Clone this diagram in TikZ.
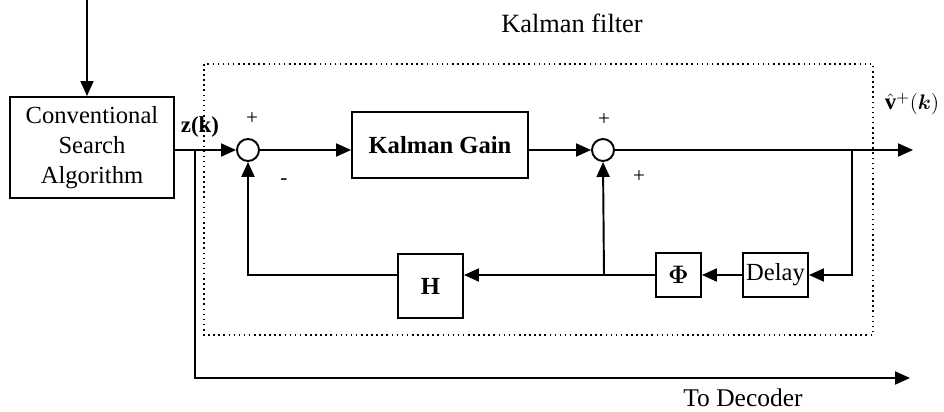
\documentclass[tikz,border=0pt]{standalone}
\usepackage{amsmath}
\usepackage{fontspec}
\setmainfont{Liberation Serif}
\usepackage{tikz}
\usetikzlibrary{arrows.meta,calc,positioning}
\tikzset{
  blk/.style={draw,line width=1.1pt,inner sep=0pt,align=center,font=\fontsize{14}{17}\selectfont},
  sumnode/.style={draw,circle,line width=1.1pt,minimum size=0.44cm,inner sep=0pt},
  wire/.style={line width=1.1pt},
  sig/.style={wire,-{Triangle[length=0.3cm,width=0.26cm]}},
  sgn/.style={font=\fontsize{12}{14}\selectfont},
  lbl/.style={font=\fontsize{14.5}{17}\selectfont}
}
\newcommand{\vhatout}{$\hat{\mathbf{v}}^{+}\mathbf{(}\boldsymbol{k}\mathbf{)}$}

\begin{document}
\begin{tikzpicture}[x=0.02cm,y=-0.02cm]
  \useasboundingbox (0,0) rectangle (944,412);
  \draw[dotted,line width=0.9pt] (204,64) rectangle (873,335);
  \node[lbl,font=\fontsize{15}{18}\selectfont] (kftitle) at (572,23) {Kalman filter};
  \node[blk,minimum width=3.28cm,minimum height=2.02cm] (conv) at (92,147.5) {Conventional\\Search\\Algorithm};
  \node[sumnode] (sumA) at (248,150) {};
  \node[blk,minimum width=3.52cm,minimum height=1.32cm] (gain) at (440,145) {\textbf{Kalman Gain}};
  \node[sumnode] (sumB) at (603,150) {};
  \node[blk,minimum width=1.3cm,minimum height=1.28cm] (hblk) at (430.5,286) {\textbf{H}};
  \node[blk,minimum width=0.9cm,minimum height=0.88cm] (phi) at (678.5,275) {$\boldsymbol{\Phi}$};
  \node[blk,minimum width=1.3cm,minimum height=0.88cm] (delay) at (775.5,275) {Delay};
  \coordinate (src) at (87,0);
  \coordinate (zsplit) at (195,150);
  \coordinate (vsplit) at (852,150);
  \coordinate (vout) at (913,150);
  \coordinate (fbjoin) at (604,275);
  \coordinate (dec) at (910,378);
  \draw[sig] (src) -- (src |- conv.north);
  \draw[wire] (conv.east |- zsplit) -- (zsplit);
  \draw[sig] (zsplit) -- (sumA.west);
  \draw[sig] (zsplit) |- (dec);
  \draw[sig] (sumA.east) -- (sumA -| gain.west);
  \draw[sig] (sumB -| gain.east) -- (sumB.west);
  \draw[sig] (sumB.east) -- (vout);
  \draw[sig] (vsplit) |- (delay.east);
  \draw[sig] (delay.west) -- (phi.east);
  \draw[sig] (phi.west) -- (phi.west -| hblk.east);
  \draw[sig] (fbjoin) -- (sumB.south);
  \draw[sig] (hblk.west |- phi.west) -| (sumA.south);
  \node[lbl,font=\fontsize{13}{15}\selectfont] (zlbl) at (200,127) {\textbf{z(k)}};
  \node[lbl,font=\fontsize{13}{15}\selectfont,inner sep=0pt] (vlbl) at (912,104) {\vhatout};
  \node[sgn] (pA) at (252,119) {+};
  \node[sgn] (mA) at (284,182) {-};
  \node[sgn] (pB) at (604,120) {+};
  \node[sgn] (pC) at (639,177) {+};
  \node[lbl] (declbl) at (743,398) {To Decoder};
\end{tikzpicture}
\end{document}
